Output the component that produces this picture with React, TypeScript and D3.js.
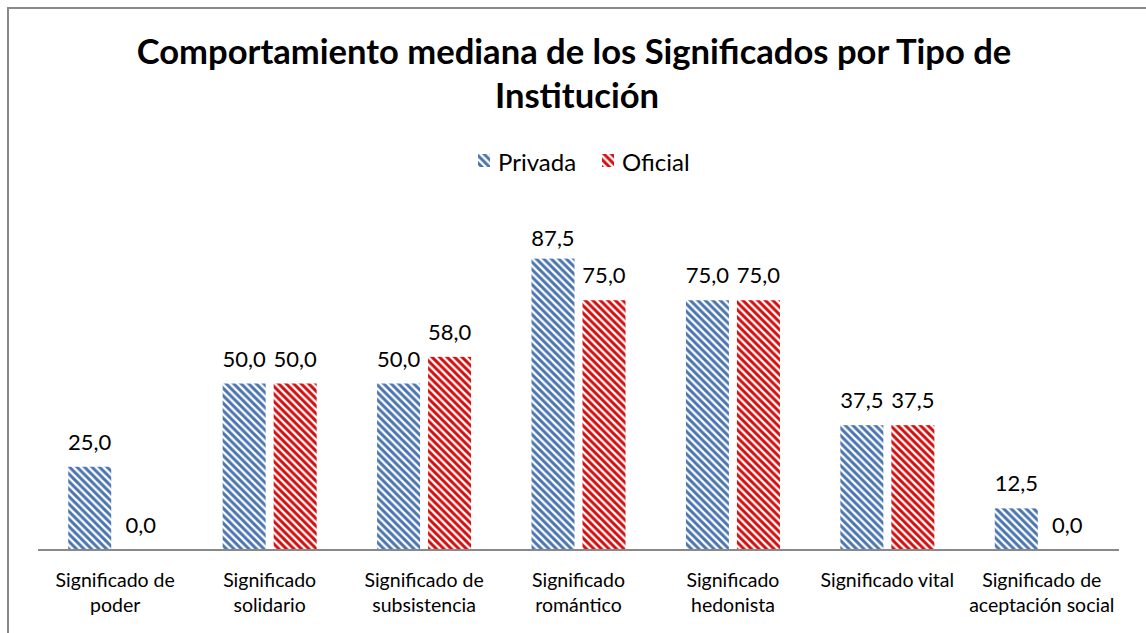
import React from 'react';
import * as d3 from 'd3';

const categories = [
  ['Significado de', 'poder'],
  ['Significado', 'solidario'],
  ['Significado de', 'subsistencia'],
  ['Significado', 'romántico'],
  ['Significado', 'hedonista'],
  ['Significado vital'],
  ['Significado de', 'aceptación social'],
];
const seriesNames = ['Privada', 'Oficial'];
const privada = [25, 50, 50, 87.5, 75, 37.5, 12.5];
const oficial = [0, 50, 58, 75, 75, 37.5, 0];
const seriesValues = [privada, oficial];
const seriesColors = ['#4a74b0', '#d40c0c'];

const width = 1146;
const height = 633;
const font = 'Lato, "Open Sans", sans-serif';

const fmt = (v: number) => v.toFixed(1).replace('.', ',');

const App = () => {
  const keys = categories.map((c, i) => String(i));
  const x0 = d3.scaleBand().domain(keys).range([38, 1119]).paddingInner(0).paddingOuter(0);
  const x1 = d3.scaleBand().domain(seriesNames).range([-47, 47]).paddingInner(8 / 51);
  const y = d3.scaleLinear().domain([0, 100]).range([550, 217]);
  const plotTop = 246;

  return (
    <svg width={width} height={height} style={{ position: 'fixed', left: 0, top: 0, background: '#fff' }}>
      <defs>
        {seriesColors.map((c, i) => (
          <pattern key={i} id={'stripe' + i} patternUnits="userSpaceOnUse" width={7.5} height={7.5}>
            <rect width={7.5} height={7.5} fill="#fff" />
            <path d="M-2,5.5 L2,9.5 M0,0 L7.5,7.5 M5.5,-2 L9.5,2" stroke={c} strokeWidth={3} />
          </pattern>
        ))}
      </defs>
      <rect x={8} y={8} width={1300} height={800} fill="#fff" stroke="#898989" strokeWidth={2} />

      <g fontFamily={font} fontWeight="bold" fontSize={34.6} textAnchor="middle" fill="#000">
        <text x={574} y={64}>Comportamiento mediana de los Significados por Tipo de</text>
        <text x={577} y={108}>Institución</text>
      </g>

      <g fontFamily={font} fontSize={24} fill="#000">
        <rect x={478} y={154} width={12} height={13} fill="url(#stripe0)" />
        <text x={498} y={171}>{seriesNames[0]}</text>
        <rect x={602} y={154} width={12} height={13} fill="url(#stripe1)" />
        <text x={622} y={171}>{seriesNames[1]}</text>
      </g>

      {keys.map((k, ci) => {
        const cx = (x0(k) ?? 0) + x0.bandwidth() / 2;
        return (
          <g key={k}>
            {seriesNames.map((s, si) => {
              const v = seriesValues[si][ci];
              const bx = cx + (x1(s) ?? 0);
              const top = y(v);
              return (
                <g key={s}>
                  <rect x={bx} y={top} width={x1.bandwidth()} height={y(0) - top} fill={`url(#stripe${si})`} />
                  <text
                    x={bx + x1.bandwidth() / 2}
                    y={Math.max(top - 17, plotTop)}
                    textAnchor="middle"
                    fontFamily={font}
                    fontSize={22}
                    fill="#000"
                  >
                    {fmt(v)}
                  </text>
                </g>
              );
            })}
            <text x={cx} textAnchor="middle" fontFamily={font} fontSize={19.5} fill="#000">
              {categories[ci].map((line, li) => (
                <tspan key={li} x={cx} y={587 + li * 24.5}>{line}</tspan>
              ))}
            </text>
          </g>
        );
      })}

      <line x1={38} x2={1119} y1={550} y2={550} stroke="#898989" strokeWidth={2} />
    </svg>
  );
};

export default App;
